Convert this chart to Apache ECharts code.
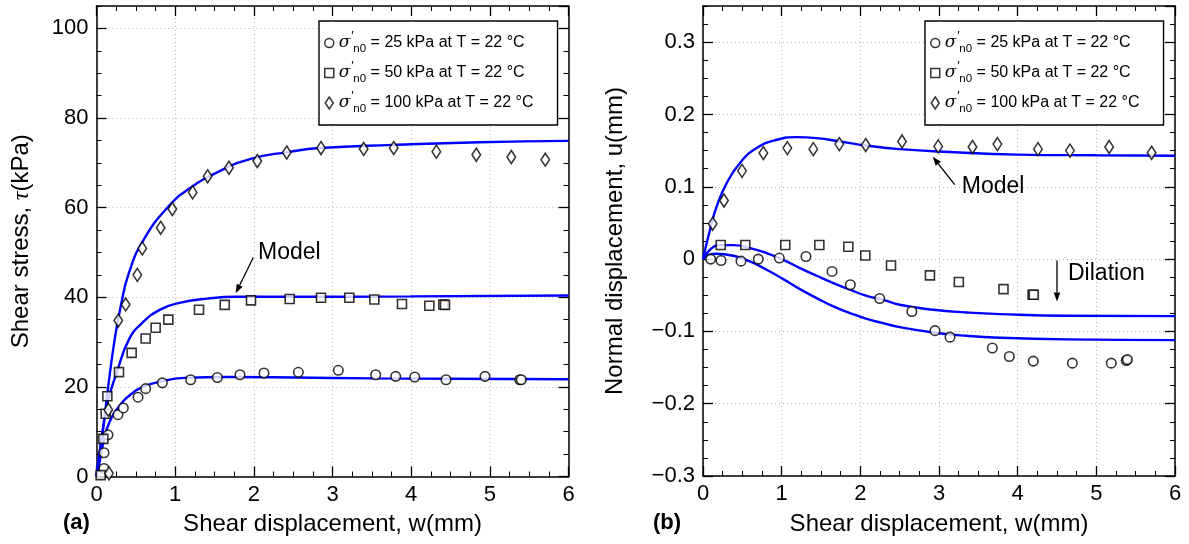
<!DOCTYPE html>
<html><head><meta charset="utf-8">
<script src="https://cdn.jsdelivr.net/npm/echarts@6/dist/echarts.min.js"></script>
<style>html,body{margin:0;padding:0;background:#fff}#c{width:1189px;height:544px}</style>
</head><body><div id="c"></div>
<script>
const FONT = "'Liberation Sans', Arial, Helvetica, sans-serif";

// ---------- legend / stress levels ----------
const seriesNames = ['s25', 's50', 's100'];
const stressLevels = ['25', '50', '100'];

// ---------- panel (a): shear stress (kPa) vs shear displacement (mm) ----------
const expA25 = [[0.095,1.8],[0.095,5.3],[0.146,9.3],[0.273,13.8],[0.341,15.3],[0.528,17.7],[0.625,19.6],[0.837,20.9],[1.197,21.6],[1.536,22.1],[1.824,22.7],[2.129,23.1],[2.566,23.25],[3.074,23.7],[3.549,22.7],[3.803,22.35],[4.045,22.2],[4.443,21.6],[4.938,22.35],[5.38,21.6],[5.40,21.6]];
const expA50 = [[0.053,0.3],[0.087,8.4],[0.117,14.0],[0.138,17.9],[0.286,23.3],[0.447,27.6],[0.625,30.8],[0.752,33.2],[0.913,35.0],[1.303,37.2],[1.63,38.3],[1.964,39.3],[2.456,39.6],[2.854,39.9],[3.214,39.9],[3.532,39.5],[3.883,38.5],[4.231,38.1],[4.41,38.4],[4.43,38.3]];
const expA100 = [[0.159,0.7],[0.150,14.9],[0.277,34.8],[0.371,38.4],[0.519,45.0],[0.582,50.9],[0.816,55.5],[0.964,59.7],[1.222,63.4],[1.413,67.0],[1.684,68.9],[2.044,70.4],[2.418,72.3],[2.854,73.3],[3.396,73.1],[3.778,73.3],[4.32,72.5],[4.828,71.8],[5.273,71.3],[5.705,70.7]];
const modelA25 = [[0,0],[0.053,4.4],[0.095,8.2],[0.159,11.9],[0.286,15.6],[0.455,18.6],[0.604,20.1],[0.816,21.2],[1.11,22.0],[1.66,22.2],[2.51,22.1],[3.5,21.9],[4.5,21.8],[6,21.7]];
const modelA50 = [[0,0],[0.074,9.7],[0.138,16.4],[0.256,23.1],[0.413,30.6],[0.582,34.3],[0.816,37.3],[1.07,38.8],[1.41,39.7],[1.77,40.1],[2.33,40.1],[4,40.2],[6,40.4]];
const modelA100 = [[0,0],[0.062,8.2],[0.095,12.0],[0.138,18.6],[0.231,30.6],[0.308,38.0],[0.413,45.5],[0.604,53.0],[0.922,60.4],[1.176,64.2],[1.536,67.9],[1.96,70.9],[2.43,72.4],[2.84,73.3],[3.77,74.0],[4.87,74.6],[6.0,74.9]];

// ---------- panel (b): normal displacement (mm) vs shear displacement (mm) ----------
const expB25 = [[0.0975,0],[0.229,-0.002],[0.483,-0.0029],[0.703,0],[0.97,0.0014],[1.309,0.0036],[1.64,-0.0171],[1.873,-0.0355],[2.246,-0.0545],[2.655,-0.0725],[2.949,-0.099],[3.14,-0.108],[3.678,-0.123],[3.894,-0.1347],[4.199,-0.1411],[4.695,-0.1439],[5.19,-0.1439],[5.38,-0.1402],[5.395,-0.139]];
const expB50 = [[0.225,0.0194],[0.538,0.0194],[1.046,0.0194],[1.479,0.0194],[1.847,0.017],[2.063,0.005],[2.39,-0.0088],[2.885,-0.0225],[3.252,-0.0318],[3.82,-0.0415],[4.19,-0.0494],[4.205,-0.0494]];
const expB100 = [[0.123,0.0488],[0.267,0.081],[0.496,0.122],[0.767,0.1466],[1.072,0.1535],[1.402,0.152],[1.733,0.159],[2.068,0.1577],[2.53,0.1627],[2.99,0.1558],[3.426,0.155],[3.742,0.159],[4.258,0.152],[4.665,0.150],[5.163,0.155],[5.703,0.147]];
const modelB25 = [[0,0],[0.047,0.0046],[0.153,0.0073],[0.386,0.0046],[0.597,-0.0033],[0.809,-0.0148],[1.021,-0.0277],[1.233,-0.0415],[1.445,-0.054],[1.657,-0.0655],[1.868,-0.0747],[2.08,-0.0826],[2.29,-0.0886],[2.5,-0.0941],[2.93,-0.1015],[3.35,-0.1061],[3.77,-0.1088],[4.62,-0.1111],[6,-0.1121]];
const modelB50 = [[0,0],[0.089,0.0129],[0.216,0.0193],[0.386,0.0193],[0.597,0.0152],[0.809,0.0083],[1.021,-0.001],[1.233,-0.0125],[1.445,-0.0231],[1.657,-0.0332],[1.868,-0.0424],[2.08,-0.0508],[2.29,-0.0563],[2.5,-0.0632],[2.93,-0.0701],[3.35,-0.0738],[3.77,-0.0761],[4.62,-0.0784],[6,-0.0789]];
const modelB100 = [[0,0],[0.089,0.0405],[0.174,0.0728],[0.301,0.105],[0.47,0.133],[0.682,0.1535],[0.937,0.165],[1.19,0.1687],[1.445,0.1673],[1.74,0.1627],[2.08,0.157],[2.5,0.152],[3.14,0.148],[4,0.1445],[5,0.1435],[6,0.143]];

// ---------- annotations (data coordinates) ----------
const annA = { text: 'Model', at: [2.053, 50.06], from: [1.993, 48.87], to: [1.769, 40.87] };
const annB = { text: 'Model', at: [3.29, 0.100], from: [3.20, 0.103], to: [2.92, 0.1415] };
const annDil = { text: 'Dilation', at: [4.64, -0.0203], from: [4.50, -0.002], to: [4.50, -0.0588] };

const BLUE = '#0000ff';
const blk = '#000';

function xAxes(g, name) {
  const base = {
    type: 'value', gridIndex: g, min: 0, max: 6, interval: 1,
    axisLine: { show: true, onZero: false, lineStyle: { color: blk, width: 1.5 } },
    axisTick: { show: true, inside: true, length: 10, lineStyle: { color: blk, width: 1.3 } },
    minorTick: { show: true, splitNumber: 4, length: 5, lineStyle: { color: blk, width: 1 } }
  };
  return [
    Object.assign({}, base, {
      position: 'bottom',
      axisLabel: { show: true, margin: 7, fontSize: 22, color: blk, fontFamily: FONT },
      splitLine: { show: true, lineStyle: { type: [1, 3], color: '#b8b8b8', width: 1 } },
      name: name, nameLocation: 'middle', nameGap: 36,
      nameTextStyle: { fontSize: 24, color: blk, fontFamily: FONT }
    }),
    Object.assign({}, base, {
      position: 'top', axisLabel: { show: false }, splitLine: { show: false }
    })
  ];
}

function yAxes(g, min, max, major, minor, fmt, name, gap, rich) {
  const tick = (len, w) => ({ show: true, inside: true, length: len, lineStyle: { color: blk, width: w } });
  const line = { show: true, onZero: false, lineStyle: { color: blk, width: 1.5 } };
  const common = { type: 'value', gridIndex: g, min: min, max: max };
  return [
    Object.assign({}, common, {
      position: 'left', interval: major, axisLine: line, axisTick: tick(10, 1.3),
      axisLabel: { show: true, margin: 8, fontSize: 22, color: blk, fontFamily: FONT, formatter: fmt, showMaxLabel: false },
      splitLine: { show: true, lineStyle: { type: [1, 3], color: '#b8b8b8', width: 1 } },
      name: name, nameLocation: 'middle', nameGap: gap,
      nameTextStyle: { fontSize: 24, color: blk, fontFamily: FONT, rich: rich }
    }),
    Object.assign({}, common, {
      position: 'left', interval: minor, axisLine: { show: false, onZero: false },
      axisTick: tick(5, 1), axisLabel: { show: false }, splitLine: { show: false }
    }),
    Object.assign({}, common, {
      position: 'right', interval: major, axisLine: line, axisTick: tick(10, 1.3),
      axisLabel: { show: false }, splitLine: { show: false }
    }),
    Object.assign({}, common, {
      position: 'right', interval: minor, axisLine: { show: false, onZero: false },
      axisTick: tick(5, 1), axisLabel: { show: false }, splitLine: { show: false }
    })
  ];
}

const fmtA = v => String(Math.round(v));
const fmtB = v => (Math.abs(v) < 1e-9 ? '0' : (v < 0 ? '\u2212' : '') + Math.abs(v).toFixed(1));

const symStyle = { color: '#fff', borderColor: blk, borderWidth: 1.6 };
function scatter(name, data, xi, yi, symbol, size) {
  return { type: 'scatter', name: name, data: data, xAxisIndex: xi, yAxisIndex: yi,
    symbol: symbol, symbolSize: size, itemStyle: symStyle, z: 4, animation: false };
}
function model(data, xi, yi) {
  return { type: 'line', name: 'model', data: data, xAxisIndex: xi, yAxisIndex: yi,
    showSymbol: false, symbol: 'none', smooth: 0.5,
    lineStyle: { color: BLUE, width: 2.4 }, itemStyle: { color: BLUE }, z: 2, animation: false };
}

const richLegend = {
  s: { fontSize: 17, fontStyle: 'italic', fontFamily: "'DejaVu Serif', 'Liberation Serif', serif", color: blk, lineHeight: 28, verticalAlign: 'middle' },
  p: { fontSize: 13, fontFamily: FONT, color: blk, width: 2, verticalAlign: 'top', lineHeight: 14, padding: [1, 0, 0, 1] },
  b: { fontSize: 11.5, fontFamily: FONT, color: blk, verticalAlign: 'bottom', lineHeight: 12, padding: [0, 0, 2, 0] },
  t: { fontSize: 16, fontFamily: FONT, color: blk, lineHeight: 28, verticalAlign: 'middle' }
};
const legendIcons = ['circle', 'path://M0,0H10V10H0Z', 'path://M4,0L8,6L4,12L0,6Z'];
function legendFor(left) {
  return {
    left: left, top: 21, orient: 'vertical', padding: [8, 24, 8, 5], itemGap: 2,
    itemWidth: 9, itemHeight: 12, borderColor: blk, borderWidth: 1.4, backgroundColor: '#fff',
    selectedMode: false,
    itemStyle: { color: '#fff', borderColor: blk, borderWidth: 1.5 },
    data: seriesNames.map((n, i) => ({ name: n, icon: legendIcons[i] })),
    formatter: name => '{s|\u03c3}{p|\u2032}{b|n0}{t| = ' + stressLevels[seriesNames.indexOf(name)] + ' kPa at T = 22 \u00b0C}',
    textStyle: { color: blk, fontSize: 16, lineHeight: 28, fontFamily: FONT, rich: richLegend }
  };
}

const richTau = { n: { fontSize: 24, fontFamily: FONT, color: blk }, i: { fontSize: 24, fontStyle: 'italic', fontFamily: "'Liberation Serif', serif", color: blk } };

const option = {
  animation: false,
  backgroundColor: '#fff',
  grid: [
    { left: 96.5, top: 6, width: 472, height: 470.5, containLabel: false },
    { left: 703, top: 6, width: 472, height: 470, containLabel: false }
  ],
  xAxis: [].concat(xAxes(0, 'Shear displacement, w(mm)'), xAxes(1, 'Shear displacement, w(mm)')),
  yAxis: [].concat(
    yAxes(0, 0, 105, 20, 5, fmtA, '{n|Shear stress, }{i|\u03c4}{n|(kPa)}', 63, richTau),
    yAxes(1, -0.3, 0.35, 0.1, 0.025, fmtB, 'Normal displacement, u(mm)', 76, null)
  ),
  legend: [legendFor(319), legendFor(925)],
  series: [
    model(modelA25, 0, 0), model(modelA50, 0, 0), model(modelA100, 0, 0),
    scatter('s25', expA25, 0, 0, 'circle', 9.5),
    scatter('s50', expA50, 0, 0, 'rect', 9),
    scatter('s100', expA100, 0, 0, 'diamond', [8.5, 13]),
    model(modelB25, 2, 4), model(modelB50, 2, 4), model(modelB100, 2, 4),
    scatter('s25', expB25, 2, 4, 'circle', 9.5),
    scatter('s50', expB50, 2, 4, 'rect', 9),
    scatter('s100', expB100, 2, 4, 'diamond', [8.5, 13])
  ]
};

const chart = echarts.init(document.getElementById('c'), null, { renderer: 'canvas' });
chart.setOption(option);

function P(g, pt) {
  return chart.convertToPixel(g === 0 ? { xAxisIndex: 0, yAxisIndex: 0 } : { xAxisIndex: 2, yAxisIndex: 4 }, pt);
}
function arrow(g, from, to) {
  const a = P(g, from), b = P(g, to);
  const dx = b[0] - a[0], dy = b[1] - a[1], L = Math.hypot(dx, dy);
  const ux = dx / L, uy = dy / L, hl = 9, hw = 3.3;
  const bx = b[0] - ux * hl, by = b[1] - uy * hl;
  return [
    { type: 'line', z: 50, shape: { x1: a[0], y1: a[1], x2: bx, y2: by }, style: { stroke: blk, lineWidth: 1.3 } },
    { type: 'polygon', z: 50, shape: { points: [[b[0], b[1]], [bx - uy * hw, by + ux * hw], [bx + uy * hw, by - ux * hw]] }, style: { fill: blk } }
  ];
}
function label(g, ann) {
  const p = P(g, ann.at);
  return { type: 'text', z: 50, x: p[0], y: p[1], style: { text: ann.text, fontSize: 23, fontFamily: FONT, fill: blk, align: 'left', verticalAlign: 'middle' } };
}
const graphics = [].concat(
  arrow(0, annA.from, annA.to), [label(0, annA)],
  arrow(1, annB.from, annB.to), [label(1, annB)],
  arrow(1, annDil.from, annDil.to), [label(1, annDil)],
  [
    { type: 'text', z: 50, x: 63, y: 523, style: { text: '(a)', fontSize: 22, fontWeight: 'bold', fontFamily: FONT, fill: blk, align: 'left', verticalAlign: 'middle' } },
    { type: 'text', z: 50, x: 653, y: 523, style: { text: '(b)', fontSize: 22, fontWeight: 'bold', fontFamily: FONT, fill: blk, align: 'left', verticalAlign: 'middle' } }
  ]
);
chart.setOption({ graphic: graphics });
</script>
</body></html>
